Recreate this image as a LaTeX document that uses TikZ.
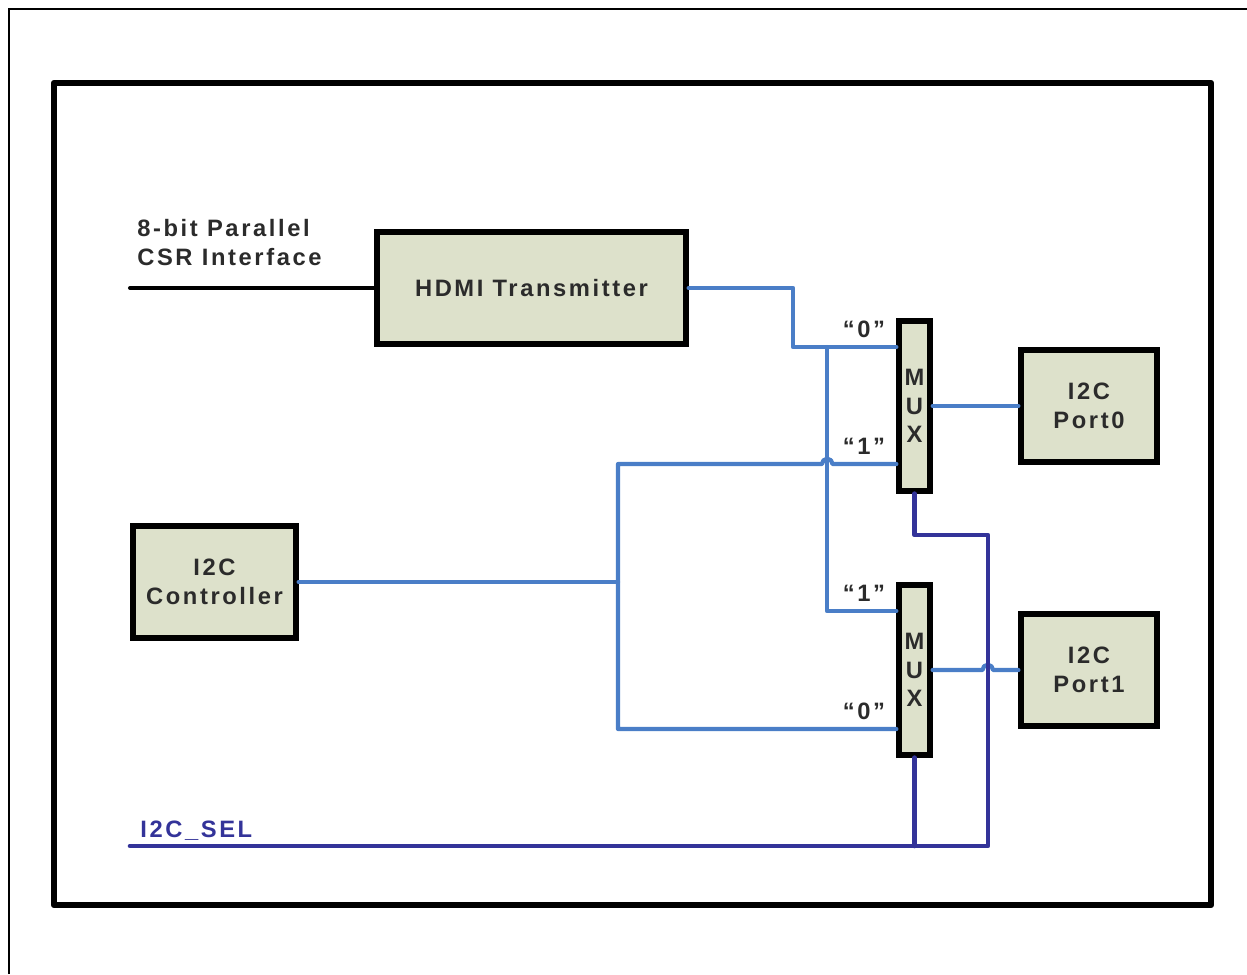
\documentclass[tikz,border=0pt]{standalone}
\usepackage{fontspec}
\newfontfamily\diafont[LetterSpace=11]{Liberation Sans}
\usetikzlibrary{positioning,calc}
\definecolor{boxfill}{HTML}{DDE1CB}
\definecolor{busblue}{HTML}{4A7EC7}
\definecolor{selblue}{HTML}{333399}
\definecolor{txtgray}{HTML}{2B2B2B}
\tikzset{
  blk/.style={draw, line width=3pt, fill=boxfill, align=center, inner sep=0pt,
              font=\diafont\bfseries\fontsize{13.5}{16.8}\selectfont, text=txtgray},
  muxbox/.style={blk, minimum width=0.62cm, minimum height=3.4cm,
                 font=\diafont\bfseries\fontsize{13.5}{16.4}\selectfont},
  pinlbl/.style={font=\diafont\bfseries\fontsize{13.5}{16.4}\selectfont, text=txtgray, inner sep=0pt},
  csr/.style={line width=2.3pt, line cap=round},
  bus/.style={line width=2.4pt, busblue, line cap=round, line join=round},
  sel/.style={line width=2.6pt, selblue, line cap=round, line join=round},
}

\begin{document}
\begin{tikzpicture}[x=0.02cm, y=-0.02cm]
        \useasboundingbox (0,0) rectangle (1247,974);
        % frames
        \draw[line width=1.1pt] (9,974) -- (9,9) -- (1247,9);
        \draw[line width=3.6pt, line join=round] (54,83) rectangle (1211,905);
        % blocks
        \node[blk, minimum width=6.18cm, minimum height=2.24cm] (hdmi) at (531.5,288) {HDMI Transmitter};
        \node[blk, minimum width=3.26cm, minimum height=2.24cm] (ctrl) at (214.5,582) {I2C\\Controller};
        \node[blk, minimum width=2.72cm, minimum height=2.24cm] (port0) at (1089,406) {I2C\\Port0};
        \node[blk, minimum width=2.72cm, minimum height=2.24cm] (port1) at (1089,670) {I2C\\Port1};
        \node[muxbox] (mux0) at (914.5,406) {M\\U\\X};
        \node[muxbox] (mux1) at (914.5,670) {M\\U\\X};
        % mux inputs
        \coordinate (m0in0) at ($(mux0.west)+(0,-59)$);
        \coordinate (m0in1) at ($(mux0.west)+(0,58)$);
        \coordinate (m1in1) at ($(mux1.west)+(0,-59)$);
        \coordinate (m1in0) at ($(mux1.west)+(0,59)$);
        \coordinate (split) at (827,347);
        \coordinate (csrin) at (130,288);
        \coordinate (selin) at (130,846);
        % labels
        \node[pinlbl] (l00) at (864,329) {“0”};
        \node[pinlbl] (l01) at (864,446) {“1”};
        \node[pinlbl] (l11) at (864,593) {“1”};
        \node[pinlbl] (l10) at (864,711) {“0”};
        \node[pinlbl, anchor=south west, align=left] (csrlbl) at (137,266)
          {8-bit Parallel\\CSR Interface};
        \node[pinlbl, anchor=south west, text=selblue] (sellbl) at (140,841) {I2C\_SEL};
        % connectors
        \draw[csr] (csrin) -- (hdmi.west);
        \draw[bus] (hdmi.east) -| (793,347) -- (m0in0);
        \draw[bus] (split) |- (m1in1);
        \draw[bus] (ctrl.east) -- (618,582);
        \draw[bus] (m0in1) -- (832.5,464) arc[start angle=0, end angle=180, radius=3pt]
          -- (618,464) -- (618,729) -- (m1in0);
        \draw[bus] (mux0.east) -- (port0.west);
        \draw[bus] (mux1.east) -- (982.5,670) arc[start angle=180, end angle=0, radius=3pt]
          -- (port1.west);
        \draw[sel] (mux0.south) |- (988,535) -- (988,846) -- (selin);
        \draw[sel] (mux1.south) -- (mux1.south |- selin);
      \end{tikzpicture}
\end{document}
